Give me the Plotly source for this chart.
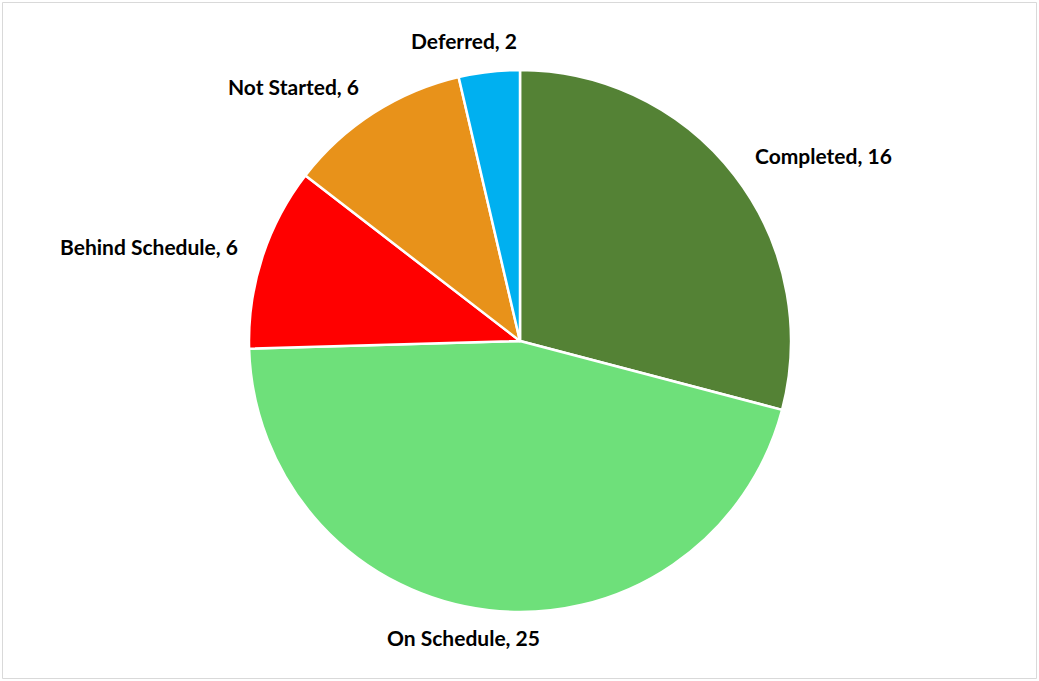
import math
import plotly.graph_objects as go

categories = ["Completed", "On Schedule", "Behind Schedule", "Not Started", "Deferred"]
values = [16, 25, 6, 6, 2]
colors = ["#548235", "#6EE07A", "#FF0000", "#E8921A", "#00B0F0"]

W, H = 1039, 681
cx, cy, R = 520, 341, 271  # pie centre/radius in pixels (from top-left)
dist_x, dist_y = 294, 300

fig = go.Figure(go.Pie(
    labels=categories,
    values=values,
    sort=False,
    direction="clockwise",
    rotation=0,
    marker=dict(colors=colors, line=dict(color="white", width=2.5)),
    textinfo="none",
    hoverinfo="label+value",
    domain=dict(x=[(cx - R) / W, (cx + R) / W], y=[(H - cy - R) / H, (H - cy + R) / H]),
    showlegend=False,
))

total = sum(values)
cum = 0
annotations = []
for lab, v in zip(categories, values):
    mid = (cum + v / 2) / total * 2 * math.pi
    cum += v
    s, c = math.sin(mid), math.cos(mid)
    py = cy - c * dist_y - 2
    if s > 0.3:
        xa = "left"
        px = cx + s * dist_x
    elif s < -0.3:
        xa = "right"
        px = cx + s * dist_x
    else:
        xa = "center"
        px = cx + s * (dist_x + 200)
    annotations.append(dict(
        x=px / W, y=1 - py / H, xref="paper", yref="paper",
        text=f"{lab}, {v}", showarrow=False,
        xanchor=xa, yanchor="middle",
        font=dict(family="Lato", size=21, color="#000000", weight="bold"),
    ))

fig.update_layout(
    width=W, height=H,
    margin=dict(l=0, r=0, t=0, b=0),
    paper_bgcolor="white",
    plot_bgcolor="white",
    annotations=annotations,
    shapes=[dict(type="rect", xref="paper", yref="paper",
                 x0=2.5 / W, x1=1 - 2.5 / W, y0=2.5 / H, y1=1 - 2.5 / H,
                 line=dict(color="#D9D9D9", width=1))],
)

fig.write_html("out.html")
